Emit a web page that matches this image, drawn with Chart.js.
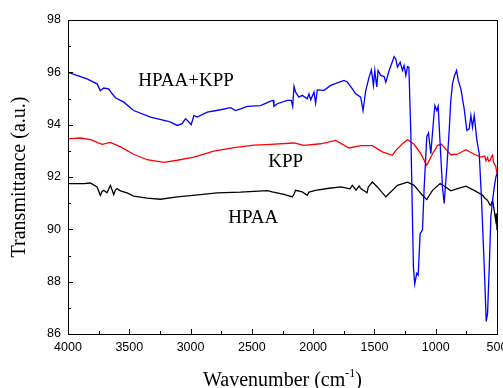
<!DOCTYPE html>
<html>
<head>
<meta charset="utf-8">
<script src="https://cdn.jsdelivr.net/npm/chart.js@4.4.0/dist/chart.umd.min.js"></script>
<style>
  html, body { margin: 0; padding: 0; background: #fff; }
  #wrap { width: 503px; height: 388px; position: relative; }
</style>
</head>
<body>
<div id="wrap"><canvas id="ftir"></canvas></div>
<script>
// wavenumber (cm-1) / transmittance readings for each spectrum
const blendWn = [4000, 3845, 3763, 3736, 3709, 3668, 3640, 3613, 3545, 3464, 3327, 3191, 3164, 3109, 3069, 3041, 3014, 2995, 2973, 2946, 2864, 2755, 2674, 2633, 2592, 2538, 2429, 2347, 2325, 2320, 2292, 2211, 2178, 2167, 2156, 2143, 2116, 2089, 2048, 2034, 2020, 1993, 1980, 1966, 1911, 1857, 1748, 1721, 1680, 1653, 1612, 1593, 1571, 1544, 1525, 1508, 1497, 1481, 1470, 1448, 1421, 1407, 1380, 1339, 1326, 1312, 1290, 1271, 1258, 1244, 1230, 1219, 1203, 1182, 1171, 1155, 1143, 1127, 1108, 1094, 1073, 1059, 1040, 1018, 1007, 991, 980, 964, 945, 931, 909, 890, 877, 863, 849, 830, 816, 795, 768, 746, 727, 713, 700, 686, 664, 645, 626, 604, 588, 577, 563, 550, 536, 522, 509, 500];
const blendT = [96.0, 95.75, 95.56, 95.3, 95.4, 95.37, 95.18, 95.03, 94.86, 94.54, 94.29, 94.14, 94.1, 93.97, 94.04, 94.23, 94.1, 94.0, 94.35, 94.29, 94.48, 94.57, 94.65, 94.54, 94.6, 94.7, 94.73, 94.9, 94.93, 94.7, 94.8, 94.93, 94.93, 94.7, 95.46, 95.24, 95.05, 95.12, 94.99, 95.18, 94.95, 95.24, 94.82, 95.33, 95.31, 95.5, 95.69, 95.63, 95.37, 95.18, 95.05, 94.54, 95.3, 95.81, 96.09, 95.5, 96.07, 95.44, 96.07, 95.88, 95.84, 95.62, 96.07, 96.6, 96.51, 96.2, 96.39, 96.07, 96.26, 95.88, 96.22, 96.2, 93.65, 88.57, 87.91, 88.32, 88.25, 89.84, 89.97, 91.62, 93.53, 93.68, 92.89, 94.16, 94.73, 94.54, 94.7, 93.27, 91.62, 90.99, 92.38, 93.78, 94.93, 95.56, 95.84, 96.07, 95.69, 95.37, 94.61, 93.78, 93.84, 94.35, 93.9, 94.35, 93.4, 92.89, 91.11, 88.57, 86.48, 86.8, 88.57, 90.48, 91.11, 91.62, 92.0, 92.13];

const kppWn = [4000, 3899, 3818, 3722, 3654, 3572, 3464, 3355, 3218, 3109, 2973, 2810, 2647, 2483, 2347, 2156, 2075, 1938, 1816, 1707, 1612, 1517, 1435, 1353, 1326, 1271, 1230, 1176, 1122, 1073, 1026, 985, 953, 909, 877, 822, 754, 686, 632, 600, 590, 577, 568, 555, 545, 536, 528, 522, 510, 500];
const kppT = [93.46, 93.49, 93.43, 93.25, 93.32, 93.15, 92.87, 92.66, 92.56, 92.64, 92.76, 92.99, 93.12, 93.22, 93.25, 93.3, 93.21, 93.27, 93.4, 93.11, 93.2, 93.2, 92.96, 92.83, 93.02, 93.27, 93.43, 93.25, 92.89, 92.45, 92.89, 93.21, 93.25, 93.02, 92.85, 92.87, 93.04, 92.87, 92.76, 92.8, 92.62, 92.74, 92.6, 92.64, 92.78, 92.83, 92.55, 92.51, 92.4, 92.13];

const hpaaWn = [4000, 3872, 3818, 3763, 3736, 3722, 3709, 3682, 3654, 3627, 3613, 3600, 3572, 3518, 3464, 3355, 3246, 3109, 2919, 2783, 2592, 2374, 2334, 2238, 2170, 2156, 2143, 2089, 2048, 2034, 1980, 1884, 1775, 1700, 1680, 1650, 1625, 1612, 1560, 1550, 1517, 1476, 1407, 1380, 1312, 1230, 1176, 1108, 1073, 1026, 964, 918, 877, 822, 754, 686, 618, 600, 577, 560, 550, 536, 525, 511, 505, 500];
const hpaaT = [91.75, 91.75, 91.77, 91.62, 91.3, 91.45, 91.49, 91.4, 91.68, 91.33, 91.5, 91.56, 91.47, 91.39, 91.27, 91.19, 91.15, 91.24, 91.33, 91.39, 91.42, 91.48, 91.43, 91.34, 91.24, 91.35, 91.49, 91.43, 91.3, 91.42, 91.49, 91.56, 91.62, 91.55, 91.68, 91.5, 91.66, 91.56, 91.4, 91.62, 91.81, 91.62, 91.24, 91.37, 91.68, 91.8, 91.68, 91.3, 91.14, 91.49, 91.75, 91.62, 91.47, 91.56, 91.65, 91.49, 91.3, 91.2, 91.11, 90.95, 90.92, 91.11, 90.8, 90.35, 90.6, 89.97];

const seriesNames = ['HPAA+KPP', 'KPP', 'HPAA'];
const seriesColors = ['#0000ff', '#ff0000', '#000000'];
const xTicks = [4000, 3500, 3000, 2500, 2000, 1500, 1000, 500];
const yTicks = [86, 88, 90, 92, 94, 96, 98];
// label anchors (left edge wavenumber, baseline transmittance)
const labelWn = [3427, 2366, 2693];
const labelT = [95.46, 92.37, 90.23];

const toXY = (wn, t) => wn.map((w, i) => ({ x: w, y: t[i] }));

const frame = {
  id: 'frame',
  afterDraw(chart) {
    const { ctx, chartArea: a, scales: { x, y } } = chart;
    ctx.save();
    ctx.strokeStyle = '#000';
    ctx.lineWidth = 1;
    ctx.strokeRect(Math.round(a.left) + 0.5, Math.round(a.top) + 0.5, Math.round(a.right - a.left), Math.round(a.bottom - a.top));
    ctx.beginPath();
    for (let v = 500; v <= 4000; v += 250) {
      const px = Math.round(x.getPixelForValue(v)) + 0.5;
      const len = v % 500 === 0 ? 5 : 3;
      ctx.moveTo(px, a.bottom);
      ctx.lineTo(px, a.bottom - len);
    }
    for (let v = 86; v <= 98; v += 1) {
      const py = Math.round(y.getPixelForValue(v)) + 0.5;
      const len = v % 2 === 0 ? 5 : 3;
      ctx.moveTo(a.left, py);
      ctx.lineTo(a.left + len, py);
    }
    ctx.stroke();

    ctx.fillStyle = '#000';
    ctx.font = '19px "Liberation Serif", "Times New Roman", serif';
    ctx.textBaseline = 'alphabetic';
    ctx.textAlign = 'left';
    seriesNames.forEach((n, i) => {
      ctx.fillText(n, x.getPixelForValue(labelWn[i]), y.getPixelForValue(labelT[i]));
    });

    // axis titles
    ctx.font = '20px "Liberation Serif", "Times New Roman", serif';
    const main = 'Wavenumber (cm';
    const sup = '-1';
    const close = ')';
    const wMain = ctx.measureText(main).width;
    ctx.font = '12px "Liberation Serif", "Times New Roman", serif';
    const wSup = ctx.measureText(sup).width;
    ctx.font = '20px "Liberation Serif", "Times New Roman", serif';
    const wClose = ctx.measureText(close).width;
    let sx = (a.left + a.right) / 2 - (wMain + wSup + wClose) / 2;
    const by = 386;
    ctx.fillText(main, sx, by);
    sx += wMain;
    ctx.font = '12px "Liberation Serif", "Times New Roman", serif';
    ctx.fillText(sup, sx, by - 9);
    sx += wSup;
    ctx.font = '20px "Liberation Serif", "Times New Roman", serif';
    ctx.fillText(close, sx, by);

    ctx.translate(25, (a.top + a.bottom) / 2);
    ctx.rotate(-Math.PI / 2);
    ctx.textAlign = 'center';
    ctx.fillText('Transmittance (a.u.)', 0, 0);
    ctx.restore();
  }
};

new Chart(document.getElementById('ftir'), {
  type: 'line',
  data: {
    datasets: [
      { label: seriesNames[0], data: toXY(blendWn, blendT), borderColor: seriesColors[0] },
      { label: seriesNames[1], data: toXY(kppWn, kppT), borderColor: seriesColors[1] },
      { label: seriesNames[2], data: toXY(hpaaWn, hpaaT), borderColor: seriesColors[2] }
    ]
  },
  options: {
    responsive: true,
    maintainAspectRatio: false,
    animation: false,
    elements: { point: { radius: 0 }, line: { borderWidth: 1.3, tension: 0 } },
    layout: { padding: { top: 20, right: 6, left: 0, bottom: 0 } },
    plugins: { legend: { display: false }, tooltip: { enabled: false } },
    scales: {
      x: {
        type: 'linear',
        reverse: true,
        min: 500,
        max: 4000,
        afterBuildTicks: (s) => { s.ticks = xTicks.map(v => ({ value: v })); },
        afterFit: (s) => { s.height = 54; s.paddingLeft = 0; s.paddingRight = 0; },
        grid: { display: false, drawTicks: false },
        border: { display: false },
        ticks: { color: '#000', padding: 6, maxRotation: 0, callback: (v) => String(v), font: { family: '"Liberation Sans", Arial, sans-serif', size: 12.5 } }
      },
      y: {
        type: 'linear',
        min: 86,
        max: 98,
        afterBuildTicks: (s) => { s.ticks = yTicks.map(v => ({ value: v })); },
        afterFit: (s) => { s.width = 68; s.paddingTop = 0; s.paddingBottom = 0; },
        grid: { display: false, drawTicks: false },
        border: { display: false },
        ticks: { color: '#000', padding: 7, callback: (v) => String(v), font: { family: '"Liberation Sans", Arial, sans-serif', size: 12.5 } }
      }
    }
  },
  plugins: [frame]
});
</script>
</body>
</html>
